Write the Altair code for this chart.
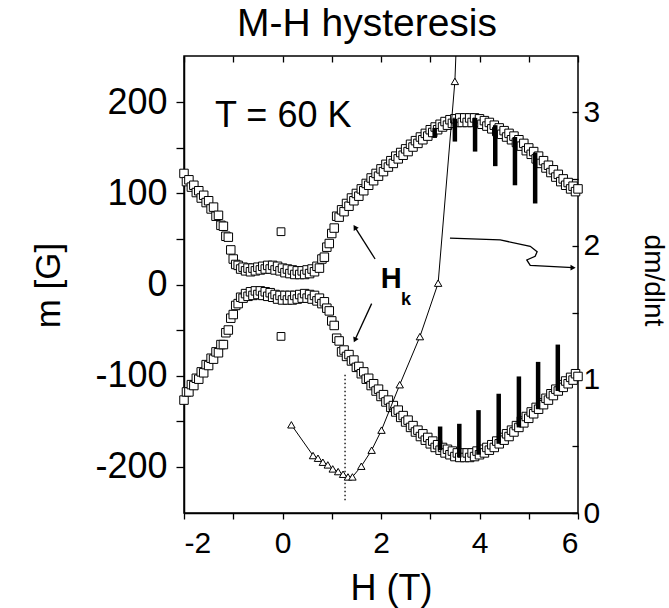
import altair as alt
import pandas as pd

FONT = "Liberation Sans"

# ---------------- data ----------------
H = [-2.0, -1.9, -1.8, -1.7, -1.6, -1.5, -1.4, -1.3, -1.2, -1.1,
     -1.0, -0.9, -0.8, -0.7, -0.6, -0.5, -0.4, -0.3, -0.2, -0.1,
     0.0, 0.1, 0.2, 0.3, 0.4, 0.5, 0.6, 0.7, 0.8, 0.9,
     1.0, 1.1, 1.2, 1.3, 1.4, 1.5, 1.6, 1.7, 1.8, 1.9,
     2.0, 2.1, 2.2, 2.3, 2.4, 2.5, 2.6, 2.7, 2.8, 2.9,
     3.0, 3.1, 3.2, 3.3, 3.4, 3.5, 3.6, 3.7, 3.8, 3.9,
     4.0, 4.1, 4.2, 4.3, 4.4, 4.5, 4.6, 4.7, 4.8, 4.9,
     5.0, 5.1, 5.2, 5.3, 5.4, 5.5, 5.6, 5.7, 5.8, 5.9, 6.0]

M_UPPER = [122, 115, 109, 103, 98, 92, 85, 76, 64, 52,
           28, 21, 19, 18, 18, 19, 20, 21, 21, 20,
           18, 17, 16, 15, 15, 16, 17, 20, 28, 41,
           56, 75, 82, 89, 95, 100, 105, 111, 117, 122,
           127, 132, 136, 141, 145, 149, 154, 158, 162, 166,
           170, 173, 176, 179, 181, 182, 183, 183, 183, 183,
           182, 180, 178, 175, 172, 169, 166, 163, 159, 155,
           150, 146, 141, 136, 131, 126, 121, 116, 112, 108, 105]

M_LOWER = [-127, -118, -111, -104, -97, -89, -82, -75, -66, -50,
           -33, -21, -15, -13, -12, -11, -12, -13, -14, -16,
           -17, -17, -17, -16, -15, -15, -16, -18, -21, -26,
           -40, -59, -74, -79, -84, -91, -98, -104, -111, -117,
           -123, -129, -135, -140, -146, -151, -157, -162, -167, -171,
           -175, -179, -182, -185, -187, -189, -190, -190, -190, -189,
           -187, -185, -182, -179, -175, -171, -167, -162, -157, -152,
           -147, -142, -137, -132, -127, -122, -117, -113, -109, -105, -101]

# second sweep (inner edge of the thick band), read between the first-sweep points
H2 = [-1.95, -1.85, -1.75, -1.65, -1.55, -1.45, -1.35, -1.25, -1.15, -1.05,
      -0.95, -0.85, -0.75, -0.65, -0.55, -0.45, -0.35, -0.25, -0.15, -0.05,
      0.05, 0.15, 0.25, 0.35, 0.45, 0.55, 0.65, 0.75, 0.85, 0.95,
      1.05, 1.15, 1.25, 1.35, 1.45, 1.55, 1.65, 1.75, 1.85, 1.95,
      2.05, 2.15, 2.25, 2.35, 2.45, 2.55, 2.65, 2.75, 2.85, 2.95,
      3.05, 3.15, 3.25, 3.35, 3.45, 3.55, 3.65, 3.75, 3.85, 3.95,
      4.05, 4.15, 4.25, 4.35, 4.45, 4.55, 4.65, 4.75, 4.85, 4.95,
      5.05, 5.15, 5.25, 5.35, 5.45, 5.55, 5.65, 5.75, 5.85, 5.95]

M_UPPER2 = [113, 107, 101, 95, 90, 83, 75, 65, 53, 38,
            22, 17, 15, 14, 15, 16, 17, 17, 16, 15,
            13, 12, 11, 11, 11, 12, 14, 18, 30, 45,
            62, 74, 80, 86, 92, 97, 103, 109, 114, 119,
            124, 129, 133, 138, 142, 146, 151, 155, 159, 163,
            167, 170, 173, 175, 177, 178, 178, 178, 178, 178,
            176, 174, 171, 168, 165, 162, 159, 156, 152, 147,
            143, 138, 133, 128, 123, 118, 113, 109, 105, 102]

M_LOWER2 = [-118, -110, -103, -96, -88, -81, -74, -66, -53, -37,
            -23, -14, -10, -8, -7, -7, -8, -9, -11, -12,
            -12, -12, -12, -11, -10, -11, -12, -15, -19, -29,
            -45, -62, -72, -77, -83, -90, -96, -103, -109, -115,
            -121, -127, -133, -138, -144, -149, -155, -160, -164, -168,
            -172, -176, -179, -181, -183, -185, -185, -185, -185, -183,
            -181, -179, -176, -172, -168, -164, -160, -155, -150, -145,
            -140, -135, -130, -125, -120, -115, -110, -106, -102, -98]

ISO_H = [-0.03, -0.03]
ISO_M = [58, -57]

UBAR_H = [3.09, 3.5, 3.91, 4.32, 4.72, 5.13]
UBAR_TOP = [172, 182, 183, 175, 162, 145]
UBAR_BOT = [161, 157, 146, 130, 109, 89]

LBAR_H = [3.2, 3.59, 3.98, 4.39, 4.8, 5.19, 5.59]
LBAR_BOT = [-182, -190, -187, -175, -157, -137, -117]
LBAR_TOP = [-156, -153, -138, -120, -101, -85, -66]

TRI_H = [0.18, 0.62, 0.72, 0.82, 0.92, 1.02, 1.13, 1.23, 1.33, 1.42,
         1.6, 1.81, 2.01, 2.38, 2.79, 3.16, 3.5]
TRI_D = [0.66, 0.43, 0.41, 0.38, 0.36, 0.33, 0.31, 0.29, 0.27, 0.27,
         0.35, 0.47, 0.62, 0.96, 1.32, 1.72, 3.23]
TRI_LINE_END_H = 3.52
TRI_LINE_END_D = 3.42

HK_DOT_H = 1.27
HK_DOT_TOP = -99
HK_DOT_BOT = -237

ARROW_ID = [1, 1, 2, 2, 3, 3, 3, 3, 3, 3, 3, 3]
ARROW_H = [1.88, 1.47, 1.81, 1.47, 3.40, 4.42, 5.03, 5.17, 5.13, 4.96, 5.03, 5.90]
ARROW_M = [28, 63, -21, -61, 51, 49, 42, 36, 31, 27, 21, 18.5]
HEAD_H = [1.47, 1.47, 5.90]
HEAD_M = [63, -61, 18.5]
HEAD_ANGLE = [328, 204, 90]

# ---------------- tables ----------------
df_up = pd.DataFrame({"H": H + H2, "m": M_UPPER + M_UPPER2}).sort_values("H", kind="stable")
df_lo = pd.DataFrame({"H": H + H2, "m": M_LOWER + M_LOWER2}).sort_values("H", kind="stable")
df_sq = pd.concat([df_up, df_lo], ignore_index=True)
df_iso = pd.DataFrame({"H": ISO_H, "m": ISO_M})
df_bars = pd.DataFrame({"H": UBAR_H + LBAR_H,
                        "top": UBAR_TOP + LBAR_TOP,
                        "bot": UBAR_BOT + LBAR_BOT})
df_tri = pd.DataFrame({"H": TRI_H, "d": TRI_D})
df_tri_line = pd.DataFrame({"H": TRI_H + [TRI_LINE_END_H],
                            "d": TRI_D + [TRI_LINE_END_D],
                            "i": list(range(len(TRI_H) + 1))})
df_dot = pd.DataFrame({"H": [HK_DOT_H], "top": [HK_DOT_TOP], "bot": [HK_DOT_BOT]})
df_arrow = pd.DataFrame({"a": ARROW_ID, "H": ARROW_H, "m": ARROW_M,
                         "i": list(range(len(ARROW_H)))})
df_head = pd.DataFrame({"H": HEAD_H, "m": HEAD_M, "ang": HEAD_ANGLE})
df_t = pd.DataFrame({"H": [-1.37], "m": [173], "t": ["T = 60 K"]})
df_hk_H = pd.DataFrame({"H": [2.21], "m": [-4], "t": ["H"]})
df_hk_k = pd.DataFrame({"H": [2.51], "m": [-22.5], "t": ["k"]})

# ---------------- scales & axes ----------------
xs = alt.Scale(domain=[-2, 6], nice=False, zero=False)
ys = alt.Scale(domain=[-251, 251], nice=False, zero=False)
ds = alt.Scale(domain=[0, 3.42], nice=False, zero=False)

bottom_axis = alt.Axis(
    orient="bottom", values=[-2, -1, 0, 1, 2, 3, 4, 5, 6],
    labelExpr="datum.value % 2 === 0 ? '' + datum.value : ''",
    grid=False, tickSize=6, tickColor="black", tickWidth=1.3,
    domainColor="black", domainWidth=1.5,
    labelFont=FONT, labelFontSize=30, labelColor="black", labelPadding=9,
    title="H (T)", titleFont=FONT, titleFontSize=36, titleFontWeight="normal",
    titleColor="black", titleX=207, titleY=86, titleBaseline="alphabetic",
    titleAlign="center", titleAnchor="start")

top_axis = alt.Axis(
    orient="top", values=[-2, -1, 0, 1, 2, 3, 4, 5, 6], labels=False,
    domain=False, grid=False, tickSize=6, offset=-6, tickColor="black",
    tickWidth=1.3, title=None)

left_axis = alt.Axis(
    orient="left", values=[-200, -150, -100, -50, 0, 50, 100, 150, 200],
    labelExpr="datum.value % 100 === 0 ? '' + datum.value : ''",
    grid=False, tickSize=8, tickColor="black", tickWidth=1.3,
    domainColor="black", domainWidth=1.5,
    labelFont=FONT, labelFontSize=36, labelColor="black", labelPadding=9,
    title="m [G]", titleFont=FONT, titleFontSize=35, titleFontWeight="normal",
    titleColor="black", titleAngle=-90, titleX=-136, titleY=229,
    titleBaseline="middle", titleAlign="center", titleAnchor="start")

right_axis = alt.Axis(
    orient="right", values=[0, 0.5, 1, 1.5, 2, 2.5, 3],
    labelExpr="datum.value % 1 === 0 ? '' + datum.value : ''",
    grid=False, domain=False, offset=-6, tickSize=6, tickColor="black",
    tickWidth=1.3, labelFont=FONT, labelFontSize=30, labelColor="black",
    labelPadding=5,
    title="dm/dlnt", titleFont=FONT, titleFontSize=28, titleFontWeight="normal",
    titleColor="black", titleAngle=90, titleX=80, titleY=224,
    titleBaseline="middle", titleAlign="center", titleAnchor="start")

# ---------------- layers ----------------
squares = alt.Chart(df_sq).mark_point(
    shape="square", filled=True, fill="white", stroke="black",
    strokeWidth=1, size=72, opacity=1
).encode(
    x=alt.X("H:Q", scale=xs, axis=bottom_axis),
    y=alt.Y("m:Q", scale=ys, axis=left_axis),
)

iso = alt.Chart(df_iso).mark_point(
    shape="square", filled=True, fill="white", stroke="black",
    strokeWidth=1, size=60, opacity=1
).encode(
    x=alt.X("H:Q", scale=xs, axis=None),
    y=alt.Y("m:Q", scale=ys, axis=None),
)

bars = alt.Chart(df_bars).mark_rule(color="black", strokeWidth=4.5).encode(
    x=alt.X("H:Q", scale=xs, axis=None),
    y=alt.Y("top:Q", scale=ys, axis=None),
    y2="bot:Q",
)

dotted = alt.Chart(df_dot).mark_rule(
    color="black", strokeWidth=1.3, strokeDash=[1.5, 2.5]
).encode(
    x=alt.X("H:Q", scale=xs, axis=top_axis),
    y=alt.Y("top:Q", scale=ys, axis=None),
    y2="bot:Q",
)

arrows = alt.Chart(df_arrow).mark_line(color="black", strokeWidth=1.3).encode(
    x=alt.X("H:Q", scale=xs, axis=None),
    y=alt.Y("m:Q", scale=ys, axis=None),
    detail="a:N",
    order="i:Q",
)

heads = alt.Chart(df_head).mark_point(
    shape="triangle-up", filled=True, color="black", size=35, opacity=1
).encode(
    x=alt.X("H:Q", scale=xs, axis=None),
    y=alt.Y("m:Q", scale=ys, axis=None),
    angle=alt.Angle("ang:Q", scale=None),
)

t_label = alt.Chart(df_t).mark_text(
    font=FONT, fontSize=36, align="left", baseline="alphabetic", color="black"
).encode(
    x=alt.X("H:Q", scale=xs, axis=None),
    y=alt.Y("m:Q", scale=ys, axis=None),
    text="t:N",
)

hk_H = alt.Chart(df_hk_H).mark_text(
    font=FONT, fontSize=29, fontWeight="bold", align="center",
    baseline="alphabetic", color="black"
).encode(
    x=alt.X("H:Q", scale=xs, axis=None),
    y=alt.Y("m:Q", scale=ys, axis=None),
    text="t:N",
)

hk_k = alt.Chart(df_hk_k).mark_text(
    font=FONT, fontSize=18, fontWeight="bold", align="center",
    baseline="alphabetic", color="black"
).encode(
    x=alt.X("H:Q", scale=xs, axis=None),
    y=alt.Y("m:Q", scale=ys, axis=None),
    text="t:N",
)

tri_line = alt.Chart(df_tri_line).mark_line(color="black", strokeWidth=1).encode(
    x=alt.X("H:Q", scale=xs, axis=None),
    y=alt.Y("d:Q", scale=ds, axis=None),
    order="i:Q",
)

tri_pts = alt.Chart(df_tri).mark_point(
    shape="triangle-up", filled=True, fill="white", stroke="black",
    strokeWidth=1, size=55, opacity=1
).encode(
    x=alt.X("H:Q", scale=xs, axis=None),
    y=alt.Y("d:Q", scale=ds, axis=right_axis),
)

chart = alt.layer(
    squares, iso, bars, dotted, arrows, heads, t_label, hk_H, hk_k,
    tri_line, tri_pts
).resolve_scale(
    y="independent"
).properties(
    width=394, height=457,
    autosize=alt.AutoSizeParams(type="none"),
    padding={"left": 184, "top": 56, "right": 91, "bottom": 95},
    background="white",
    title=alt.TitleParams("M-H hysteresis", font=FONT, fontSize=39,
                          fontWeight="normal", color="black", dx=-14,
                          dy=40, offset=19, baseline="alphabetic",
                          anchor="middle"),
).configure_view(
    stroke="black", strokeWidth=1.5
)

chart.save("out.html", embed_options={"renderer": "svg", "actions": False})
